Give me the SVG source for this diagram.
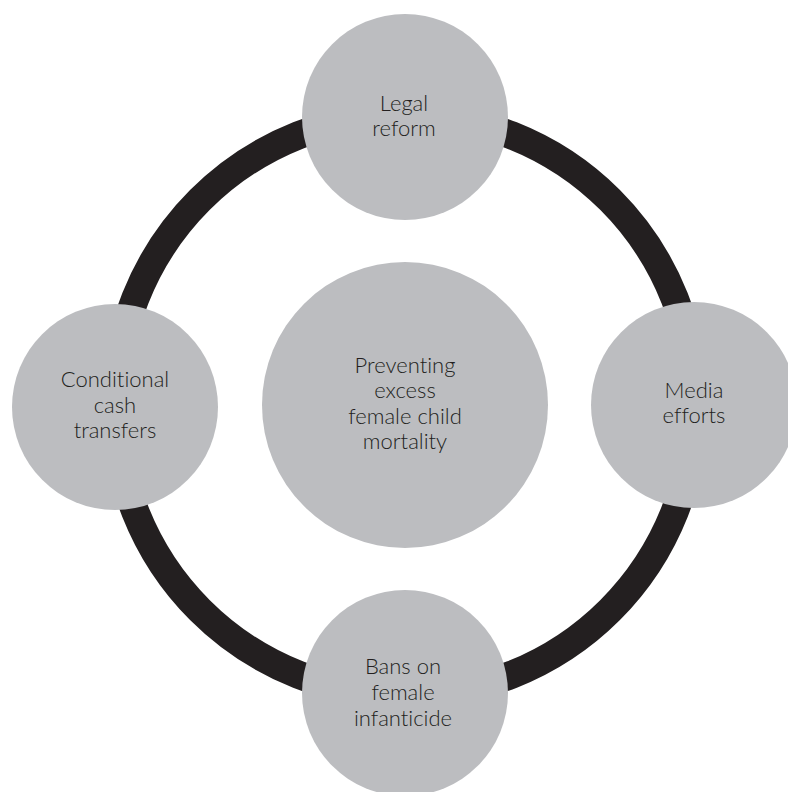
<svg xmlns="http://www.w3.org/2000/svg" width="788" height="792" viewBox="0 0 788 792">
<style>
.node{fill:#BCBDC0}
.lbl{font-family:Lato,"Noto Sans",sans-serif;font-size:22px;font-weight:300;fill:#231F20;text-anchor:middle;font-variant-ligatures:none}
.ring{fill:none;stroke:#231F20;stroke-width:28}
</style>
<rect width="788" height="792" fill="#FFFFFF"/>
<g id="connectors">
<circle class="ring" cx="405" cy="405" r="290"/>
</g>
<g id="center">
<circle class="node" cx="405" cy="405" r="143"/>
<text class="lbl" x="405" y="373">Preventing</text>
<text class="lbl" x="405" y="398">excess</text>
<text class="lbl" x="405" y="424">female child</text>
<text class="lbl" x="405" y="449">mortality</text>
</g>
<g id="legal">
<circle class="node" cx="405" cy="117" r="103"/>
<text class="lbl" x="404" y="111">Legal</text>
<text class="lbl" x="404" y="136">reform</text>
</g>
<g id="media">
<circle class="node" cx="694" cy="405" r="103"/>
<text class="lbl" x="694" y="398">Media</text>
<text class="lbl" x="694" y="423">efforts</text>
</g>
<g id="bans">
<circle class="node" cx="405" cy="693" r="103"/>
<text class="lbl" x="403" y="674">Bans on</text>
<text class="lbl" x="403" y="700">female</text>
<text class="lbl" x="403" y="726">infanticide</text>
</g>
<g id="cash">
<circle class="node" cx="115" cy="407" r="103"/>
<text class="lbl" x="115" y="387">Conditional</text>
<text class="lbl" x="115" y="413">cash</text>
<text class="lbl" x="115" y="438">transfers</text>
</g>
</svg>
